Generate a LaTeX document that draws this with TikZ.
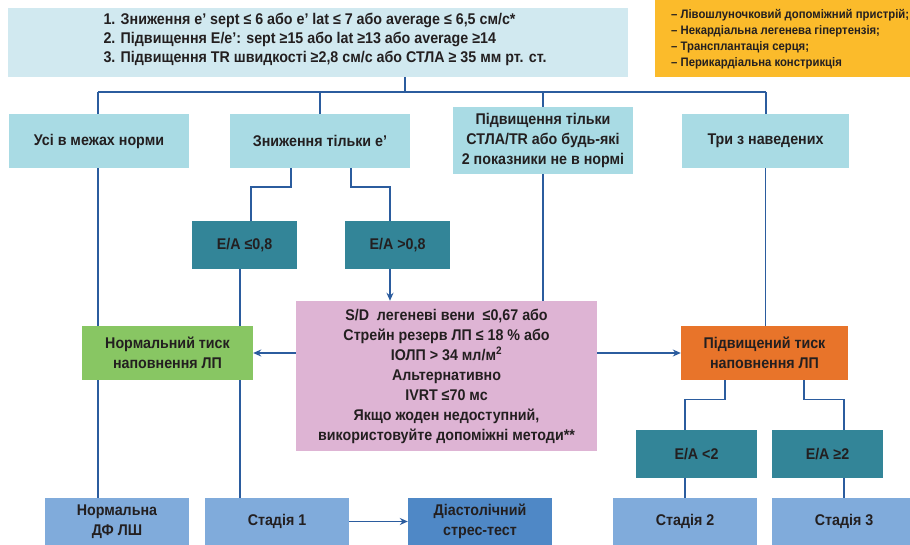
\documentclass[tikz,border=0pt]{standalone}
\usepackage{fontspec}
\setmainfont{Liberation Sans}[FakeStretch=0.92]
\usetikzlibrary{arrows.meta}
\definecolor{topc}{HTML}{D1E9F0}
\definecolor{lb}{HTML}{A9DBE4}
\definecolor{tealc}{HTML}{338598}
\definecolor{greenc}{HTML}{88C663}
\definecolor{orangec}{HTML}{E8742A}
\definecolor{pinkc}{HTML}{DEB4D4}
\definecolor{bblue}{HTML}{80ABDB}
\definecolor{dblue}{HTML}{4F88C6}
\definecolor{legc}{HTML}{FBBB2B}
\definecolor{lnc}{HTML}{2B5C9E}
\definecolor{txt}{HTML}{231F20}
\pgfdeclarelayer{bg}
\pgfsetlayers{bg,main}
\begin{document}
\begin{tikzpicture}[x=1pt,y=-1pt,
  box/.style={rectangle, inner sep=0pt, align=center, text=txt,
    font=\bfseries\fontsize{15.5}{20}\selectfont},
  legtext/.style={inner sep=0pt, anchor=base west, text=txt,
    font=\bfseries\fontsize{12.3}{16}\selectfont},
  conn/.style={draw=lnc, line width=1.4pt},
  arr/.style={conn, -{Stealth[length=8pt,width=7pt]}}]
\useasboundingbox (0,0) rectangle (910,545);
% top criteria box
\node[box, fill=topc, minimum width=620pt, minimum height=69pt] (top) at (318,42.5) {};
\node[box, align=left, font=\bfseries\fontsize{15.5}{19}\selectfont] (toptext) at (325,39) {1. Зниження e’ sept ≤ 6 або e’ lat ≤ 7 або average ≤ 6,5 см/с*\\
2. Підвищення E/e’: sept ≥15 або lat ≥13 або average ≥14\\
3. Підвищення TR швидкості ≥2,8 см/с або СТЛА ≥ 35 мм рт. ст.};
% legend box (cut off)
\node[rectangle, fill=legc, inner sep=0pt, minimum width=260pt, minimum height=87pt, anchor=north west] (leg) at (655,-10) {};
\node[legtext] (l1) at (671,18.5) {– Лівошлуночковий допоміжний пристрій;};
\node[legtext] (l2) at (671,34.5) {– Некардіальна легенева гіпертензія;};
\node[legtext] (l3) at (671,50.5) {– Трансплантація серця;};
\node[legtext] (l4) at (671,66.5) {– Перикардіальна констрикція};
% row 1
\node[box, fill=lb, minimum width=180pt, minimum height=54pt] (usi) at (99,141) {Усі в межах норми};
\node[box, fill=lb, minimum width=180pt, minimum height=54pt] (zn) at (320,141) {Зниження тільки е’};
\node[box, fill=lb, minimum width=180pt, minimum height=67pt] (pidv) at (543,140.5) {Підвищення тільки\\СТЛА/TR або будь-які\\2 показники не в нормі};
\node[box, fill=lb, minimum width=167pt, minimum height=54pt] (try) at (765.5,141) {Три з наведених};
% E/A boxes
\node[box, fill=tealc, minimum width=105pt, minimum height=48pt] (ea1) at (244.5,245) {E/A ≤0,8};
\node[box, fill=tealc, minimum width=105pt, minimum height=48pt] (ea2) at (397.5,245) {E/A >0,8};
% pink
\node[box, fill=pinkc, minimum width=301pt, minimum height=150pt] (pink) at (446.5,376) {S/D\ \ легеневі вени\ \ ≤0,67 або\\Стрейн резерв ЛП ≤ 18 \% або\\ІОЛП > 34 мл/м\textsuperscript{2}\\Альтернативно\\IVRT ≤70 мс\\Якщо жоден недоступний,\\використовуйте допоміжні методи**};
\node[box, fill=greenc, minimum width=171pt, minimum height=54pt] (green) at (167.5,353) {Нормальний тиск\\наповнення ЛП};
\node[box, fill=orangec, minimum width=167pt, minimum height=54pt] (orange) at (764.5,353) {Підвищений тиск\\наповнення ЛП};
\node[box, fill=tealc, minimum width=121pt, minimum height=48pt] (ea3) at (696.5,454) {E/A <2};
\node[box, fill=tealc, minimum width=111pt, minimum height=48pt] (ea4) at (827.5,454) {E/A ≥2};
% bottom row
\node[box, fill=bblue, minimum width=144pt, minimum height=47pt] (norm) at (117,521.5) {Нормальна\\ДФ ЛШ};
\node[box, fill=bblue, minimum width=144pt, minimum height=47pt] (st1) at (277,521.5) {Стадія 1};
\node[box, fill=dblue, minimum width=144pt, minimum height=47pt] (diast) at (480,521.5) {Діастолічний\\стрес-тест};
\node[box, fill=bblue, minimum width=144pt, minimum height=47pt] (st2) at (685,521.5) {Стадія 2};
\node[box, fill=bblue, minimum width=144pt, minimum height=47pt] (st3) at (844,521.5) {Стадія 3};
% connectors
\begin{pgfonlayer}{bg}
\draw[conn] ([xshift=87pt]top.south) -- ++(0,15) coordinate (hj);
\coordinate (hl) at (98,92);
\coordinate (hr) at (766,92);
\draw[conn] (hl) -- (hr);
\draw[conn] (hl) -- (hl |- usi.north);
\draw[conn] (usi.south -| hl) -- (norm.north -| hl);
\draw[conn] (zn.north) -- (zn.north |- hl);
\draw[conn] (pidv.north) -- (pidv.north |- hl);
\draw[conn] (pidv.south) -- (pidv.south |- pink.north);
\draw[conn] (try.north -| hr) -- (hr);
\draw[conn] (try.south) -- (try.south |- orange.north);
\draw[conn] ([xshift=-29pt]zn.south) -- ++(0,19) -| ([xshift=6.5pt]ea1.north);
\draw[conn] ([xshift=31pt]zn.south) -- ++(0,19) -| ([xshift=-7.5pt]ea2.north);
\draw[conn] ([xshift=-4.5pt]ea1.south) -- ([xshift=-4.5pt]ea1.south |- st1.north);
\draw[conn] ([xshift=-39.5pt]orange.south) -- ++(0,19) -| ([xshift=-11.5pt]ea3.north);
\draw[conn] ([xshift=39.5pt]orange.south) -- ++(0,19) -| ([xshift=16.5pt]ea4.north);
\draw[conn] ([xshift=-11.5pt]ea3.south) -- ([xshift=-11.5pt]ea3.south |- st2.north);
\draw[conn] ([xshift=16.5pt]ea4.south) -- ([xshift=16.5pt]ea4.south |- st3.north);
\end{pgfonlayer}
\draw[arr] ([xshift=-7.5pt]ea2.south) -- ([xshift=-7.5pt]ea2.south |- pink.north);
\draw[arr] (pink.west |- green.east) -- (green.east);
\draw[arr] (pink.east |- orange.west) -- (orange.west);
\draw[arr] (st1.east) -- (diast.west);
\end{tikzpicture}
\end{document}
